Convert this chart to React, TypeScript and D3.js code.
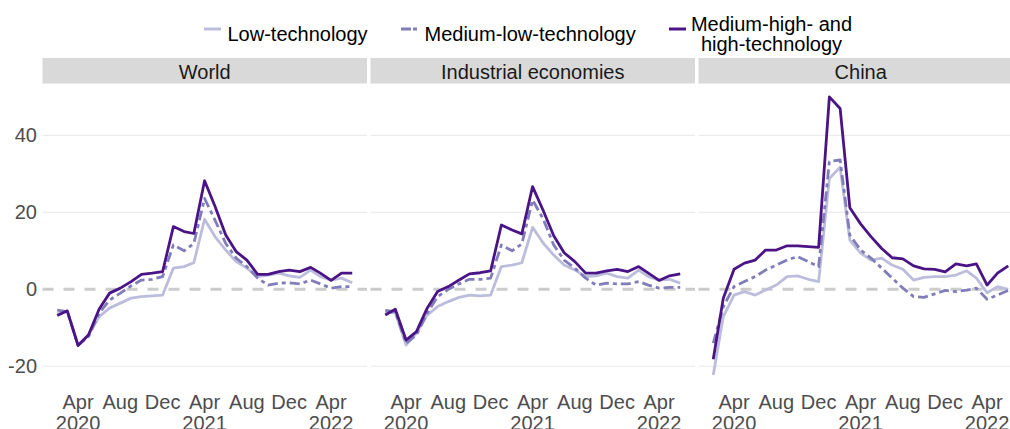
import React, { useRef, useEffect } from 'react';
import * as d3 from 'd3';

// monthly year-on-year growth, Feb 2020 - Jun 2022
const months = [
  '2020-02', '2020-03', '2020-04', '2020-05', '2020-06', '2020-07', '2020-08', '2020-09', '2020-10', '2020-11', '2020-12',
  '2021-01', '2021-02', '2021-03', '2021-04', '2021-05', '2021-06', '2021-07', '2021-08', '2021-09', '2021-10', '2021-11', '2021-12',
  '2022-01', '2022-02', '2022-03', '2022-04', '2022-05', '2022-06',
];

const worldLow = [-6.2, -5.8, -14.5, -11.9, -7.1, -4.9, -3.6, -2.3, -1.9, -1.7, -1.5, 5.5, 5.9, 6.9, 18.2, 13.7, 10.2, 7.2, 5.5, 3.3, 3.7, 4.2, 3.5, 3.1, 5.0, 3.3, 2.4, 2.9, 1.7];
const worldMedLow = [-5.4, -5.8, -14.5, -12.3, -6.2, -2.8, -1.0, 0.9, 2.4, 2.6, 3.3, 11.5, 10.0, 11.9, 23.6, 18.0, 11.9, 8.1, 5.9, 2.9, 1.1, 1.6, 1.7, 1.4, 2.4, 1.4, 0.3, 0.7, 0.7];
const worldHigh = [-6.8, -5.6, -14.6, -11.9, -5.1, -1.0, 0.3, 2.0, 3.9, 4.2, 4.6, 16.3, 15.0, 14.5, 28.2, 21.6, 14.1, 9.8, 7.6, 3.9, 3.9, 4.6, 5.0, 4.6, 5.7, 4.2, 2.3, 4.2, 4.2];

const indLow = [-5.8, -6.2, -14.5, -11.4, -6.7, -4.5, -3.2, -2.1, -1.5, -1.7, -1.5, 5.9, 6.3, 6.9, 16.1, 12.1, 8.9, 6.3, 5.0, 3.3, 3.5, 4.2, 3.3, 2.9, 5.0, 3.3, 2.4, 2.6, 1.6];
const indMedLow = [-5.5, -5.8, -14.0, -11.9, -6.2, -1.9, 0.0, 1.4, 2.6, 2.6, 2.9, 11.5, 10.0, 11.8, 23.2, 18.4, 11.5, 7.6, 5.5, 2.9, 1.1, 1.6, 1.4, 1.4, 2.0, 1.1, 0.3, 0.5, 0.5];
const indHigh = [-6.7, -5.2, -13.2, -11.0, -4.9, -0.6, 0.7, 2.4, 4.0, 4.3, 4.8, 16.7, 15.4, 14.4, 26.7, 20.6, 13.9, 9.5, 7.2, 4.2, 4.2, 4.8, 5.2, 4.6, 5.9, 4.2, 2.3, 3.5, 4.0];

const chinaLow = [-22.3, -7.1, -1.5, -0.6, -1.5, -0.2, 1.1, 3.3, 3.5, 2.6, 2.0, 28.8, 31.7, 12.8, 9.4, 7.6, 8.1, 6.3, 5.2, 2.4, 3.1, 3.3, 3.3, 3.7, 4.8, 2.9, -0.9, 0.7, 0.0];
const chinaMedLow = [-14.0, -4.5, 0.7, 2.0, 3.3, 5.0, 6.3, 7.6, 8.5, 7.2, 5.9, 33.2, 33.6, 14.1, 10.2, 8.1, 5.5, 2.9, 0.3, -1.9, -2.1, -1.2, -0.3, -0.6, -0.2, 0.3, -2.6, -1.5, -0.3];
const chinaHigh = [-18.2, -2.3, 5.2, 6.8, 7.6, 10.2, 10.2, 11.3, 11.3, 11.1, 10.9, 50.0, 47.0, 21.2, 17.0, 13.7, 10.6, 8.2, 7.9, 6.1, 5.3, 5.2, 4.5, 6.6, 6.1, 6.6, 1.1, 4.2, 6.1];

const facetNames = ['World', 'Industrial economies', 'China'];
const seriesNames = ['Low-technology', 'Medium-low-technology', 'Medium-high- and\nhigh-technology'];
const seriesColors = ['#bcbddc', '#807dba', '#4a1486'];
const seriesDash = [null, '10 4 4 4', null];
const tickMonths = ['2020-04', '2020-08', '2020-12', '2021-04', '2021-08', '2021-12', '2022-04'];
const yTicks = [-20, 0, 20, 40];

const facetData = [
  [worldLow, worldMedLow, worldHigh],
  [indLow, indMedLow, indHigh],
  [chinaLow, chinaMedLow, chinaHigh],
];

const FONT = '"Liberation Sans", Arial, sans-serif';

const Chart = () => {
  const ref = useRef(null);

  useEffect(() => {
    const svg = d3.select(ref.current)
      .attr('width', 1010)
      .attr('height', 429);

    svg.selectAll('*').remove();
    svg.style('font-family', FONT);

    const parse = d3.timeParse('%Y-%m');
    const dates = months.map(parse);

    // ggplot-like 5% expansion on both axes
    const [t0, t1] = d3.extent(dates);
    const tPad = (t1 - t0) * 0.05;
    const allValues = facetData.flat(2);
    const [lo, hi] = d3.extent(allValues);
    const vPad = (hi - lo) * 0.05;

    const panelW = 324.5;
    const panelGap = 3.5;
    const left = 42.5;

    const y = d3.scaleLinear()
      .domain([lo - vPad, hi + vPad])
      .range([389, 83]);

    // legend
    const legendX = [204, 401, 669];
    const legend = svg.append('g');
    seriesNames.forEach((name, i) => {
      const g = legend.append('g').attr('transform', `translate(${legendX[i]},0)`);
      g.append('line')
        .attr('x1', 0).attr('x2', 17)
        .attr('y1', 29).attr('y2', 29)
        .attr('stroke', seriesColors[i])
        .attr('stroke-width', 3)
        .attr('stroke-dasharray', seriesDash[i] ? '10 2 4 2' : null);
      const lines = name.split('\n');
      if (lines.length === 1) {
        g.append('text')
          .attr('x', 23.5).attr('y', 41)
          .attr('font-size', 20)
          .attr('fill', '#000')
          .text(name);
      } else {
        lines.forEach((ln, j) => {
          g.append('text')
            .attr('x', 102.5).attr('y', 31 + j * 20)
            .attr('text-anchor', 'middle')
            .attr('font-size', 20)
            .attr('fill', '#000')
            .text(ln);
        });
      }
    });

    // y axis
    const yAxis = svg.append('g')
      .attr('transform', `translate(${left},0)`)
      .call(d3.axisLeft(y).tickValues(yTicks).tickSize(0).tickPadding(5.5).tickFormat(d => String(d)));
    yAxis.select('.domain').remove();
    yAxis.selectAll('text')
      .attr('font-size', 20)
      .attr('font-family', FONT)
      .attr('fill', '#4d4d4d');

    const lineGen = (x) => d3.line()
      .x((d, i) => x(dates[i]))
      .y(d => y(d));

    facetData.forEach((series, f) => {
      const x0 = left + f * (panelW + panelGap);
      const x = d3.scaleTime()
        .domain([new Date(+t0 - tPad), new Date(+t1 + tPad)])
        .range([x0, x0 + panelW]);

      const panel = svg.append('g');

      // strip
      panel.append('rect')
        .attr('x', x0).attr('y', 58)
        .attr('width', panelW).attr('height', 25.5)
        .attr('fill', '#d9d9d9');
      panel.append('text')
        .attr('x', x0 + panelW / 2).attr('y', 78.5)
        .attr('text-anchor', 'middle')
        .attr('font-size', 20)
        .attr('fill', '#1a1a1a')
        .text(facetNames[f]);

      // grid
      panel.selectAll('.grid')
        .data(yTicks.filter(v => v !== 0))
        .enter().append('line')
        .attr('x1', x0).attr('x2', x0 + panelW)
        .attr('y1', d => y(d)).attr('y2', d => y(d))
        .attr('stroke', '#ebebeb')
        .attr('stroke-width', 1.2);

      panel.append('line')
        .attr('x1', x0).attr('x2', x0 + panelW)
        .attr('y1', y(0)).attr('y2', y(0))
        .attr('stroke', '#cccccc')
        .attr('stroke-width', 3)
        .attr('stroke-dasharray', '11 10');

      // series
      series.forEach((vals, s) => {
        panel.append('path')
          .datum(vals)
          .attr('d', lineGen(x))
          .attr('fill', 'none')
          .attr('stroke', seriesColors[s])
          .attr('stroke-width', 2.8)
          .attr('stroke-linejoin', 'round')
          .attr('stroke-dasharray', seriesDash[s]);
      });

      // x labels, year shown when it changes
      tickMonths.forEach((m, k) => {
        const d = parse(m);
        const showYear = k === 0 || parse(tickMonths[k - 1]).getFullYear() !== d.getFullYear();
        const t = panel.append('text')
          .attr('x', x(d))
          .attr('text-anchor', 'middle')
          .attr('font-size', 20)
          .attr('fill', '#4d4d4d');
        t.append('tspan').attr('x', x(d)).attr('y', 408.5).text(d3.timeFormat('%b')(d));
        if (showYear) {
          t.append('tspan').attr('x', x(d)).attr('y', 430).text(d3.timeFormat('%Y')(d));
        }
      });
    });
  }, []);

  return <svg ref={ref} style={{ position: 'absolute', left: 0, top: 0 }}></svg>;
};

export default function App() {
  return <Chart />;
}
